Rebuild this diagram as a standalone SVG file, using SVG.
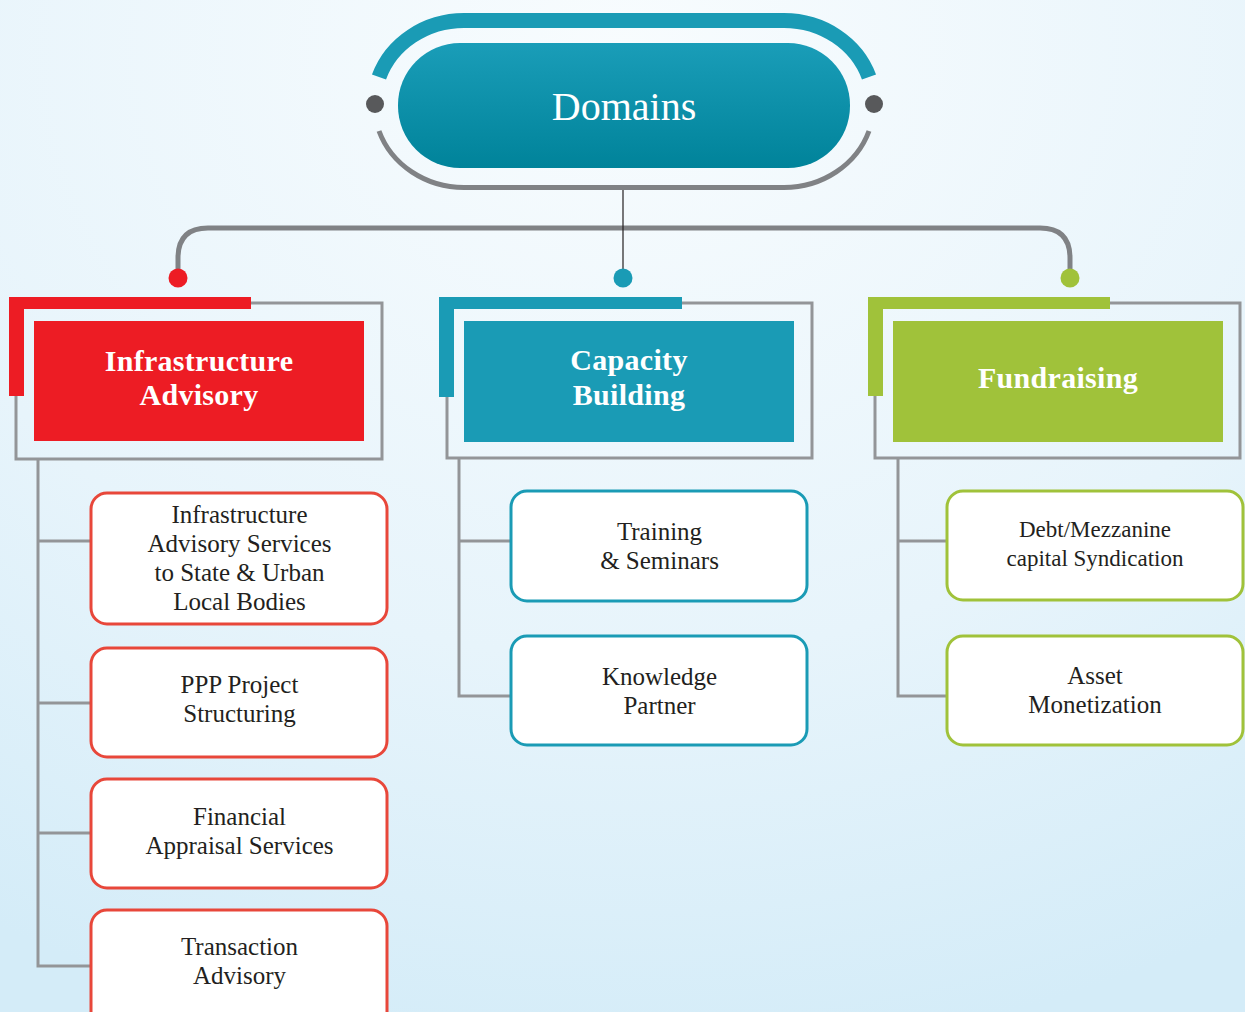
<svg xmlns="http://www.w3.org/2000/svg" width="1245" height="1012" viewBox="0 0 1245 1012">
<defs>
<radialGradient id="bg" cx="0.5" cy="0.05" r="1.0" gradientUnits="objectBoundingBox">
<stop offset="0" stop-color="#f8fcfe"/>
<stop offset="0.6" stop-color="#e7f4fb"/>
<stop offset="1" stop-color="#d4ecf8"/>
</radialGradient>
<linearGradient id="pill" x1="0" y1="0" x2="0" y2="1">
<stop offset="0" stop-color="#1a9db8"/>
<stop offset="1" stop-color="#00839a"/>
</linearGradient>
<style>
.hdr{font-family:"Liberation Serif","DejaVu Serif",serif;font-weight:bold;font-size:30px;fill:#ffffff;text-anchor:middle;letter-spacing:0.3px}
.lbl{font-family:"Liberation Serif","DejaVu Serif",serif;font-size:25px;fill:#231f20;text-anchor:middle}
.lbl.narrow{font-size:23px}
.frame{fill:none;stroke:#939598;stroke-width:3}
.conn{fill:none;stroke:#939598;stroke-width:3}
.box{fill:#ffffff;stroke-width:3}
.red{stroke:#e8473a}
.teal{stroke:#1a9bb5}
.green{stroke:#a0c23a}
</style>
</defs>
<rect x="0" y="0" width="1245" height="1012" fill="url(#bg)"/>

<g id="connectors">
<path d="M178,270 L178,258 Q178,228 208,228 L1040,228 Q1070,228 1070,258 L1070,270" fill="none" stroke="#808285" stroke-width="5"/>
<line x1="623" y1="188" x2="623" y2="272" stroke="#231f20" stroke-width="1.2"/>
<circle cx="178" cy="278" r="9.5" fill="#ed1c24"/>
<circle cx="623" cy="278" r="9.5" fill="#1a9bb5"/>
<circle cx="1070" cy="278" r="9.5" fill="#a0c23a"/>
<path class="conn" d="M38,459 L38,966 L91,966 M38,541 L91,541 M38,703 L91,703 M38,833 L91,833"/>
<path class="conn" d="M459,458 L459,696 L511,696 M459,541 L511,541"/>
<path class="conn" d="M898,458 L898,696 L947,696 M898,541 L947,541"/>
</g>

<g id="domains">
<path d="M379,77 A90,83.5 0 0 1 464,20.5 L784,20.5 A90,83.5 0 0 1 869,77" fill="none" stroke="#1a9bb5" stroke-width="15"/>
<path d="M379,131 A90,83.5 0 0 0 464,187.5 L784,187.5 A90,83.5 0 0 0 869,131" fill="none" stroke="#808285" stroke-width="5"/>
<circle cx="375" cy="104" r="9" fill="#58595b"/>
<circle cx="874" cy="104" r="9" fill="#58595b"/>
<rect x="398" y="43" width="452" height="125" rx="62" fill="url(#pill)"/>
<text x="624" y="120" font-family="Liberation Serif, DejaVu Serif, serif" font-size="40" fill="#ffffff" text-anchor="middle">Domains</text>
</g>

<g id="infrastructure-advisory">
<rect class="frame" x="16" y="303" width="366" height="156"/>
<path d="M9,297 L251,297 L251,309 L24,309 L24,396 L9,396 Z" fill="#ed1c24"/>
<rect x="34" y="321" width="330" height="120" fill="#ed1c24"/>
<text class="hdr" x="199" y="371">Infrastructure</text>
<text class="hdr" x="199" y="405">Advisory</text>
</g>

<g id="capacity-building">
<rect class="frame" x="447" y="303" width="365" height="155"/>
<path d="M439,297 L682,297 L682,309 L454,309 L454,397 L439,397 Z" fill="#1a9bb5"/>
<rect x="464" y="321" width="330" height="121" fill="#1a9bb5"/>
<text class="hdr" x="629" y="370">Capacity</text>
<text class="hdr" x="629" y="405">Building</text>
</g>

<g id="fundraising">
<rect class="frame" x="875" y="303" width="365" height="155"/>
<path d="M868,297 L1110,297 L1110,309 L883,309 L883,396 L868,396 Z" fill="#a0c23a"/>
<rect x="893" y="321" width="330" height="121" fill="#a0c23a"/>
<text class="hdr" x="1058" y="388">Fundraising</text>
</g>

<g id="ia-services">
<rect class="box red" x="91" y="493" width="296" height="131" rx="16"/>
<text class="lbl" x="239.5" y="523">Infrastructure</text>
<text class="lbl" x="239.5" y="552">Advisory Services</text>
<text class="lbl" x="239.5" y="581">to State &amp; Urban</text>
<text class="lbl" x="239.5" y="610">Local Bodies</text>
</g>
<g id="ppp-project">
<rect class="box red" x="91" y="648" width="296" height="109" rx="16"/>
<text class="lbl" x="239.5" y="693">PPP Project</text>
<text class="lbl" x="239.5" y="722">Structuring</text>
</g>
<g id="financial-appraisal">
<rect class="box red" x="91" y="779" width="296" height="109" rx="16"/>
<text class="lbl" x="239.5" y="825">Financial</text>
<text class="lbl" x="239.5" y="854">Appraisal Services</text>
</g>
<g id="transaction-advisory">
<rect class="box red" x="91" y="910" width="296" height="120" rx="16"/>
<text class="lbl" x="239.5" y="955">Transaction</text>
<text class="lbl" x="239.5" y="984">Advisory</text>
</g>

<g id="training-seminars">
<rect class="box teal" x="511" y="491" width="296" height="110" rx="16"/>
<text class="lbl" x="659.5" y="540">Training</text>
<text class="lbl" x="659.5" y="569">&amp; Seminars</text>
</g>
<g id="knowledge-partner">
<rect class="box teal" x="511" y="636" width="296" height="109" rx="16"/>
<text class="lbl" x="659.5" y="685">Knowledge</text>
<text class="lbl" x="659.5" y="714">Partner</text>
</g>

<g id="debt-mezzanine">
<rect class="box green" x="947" y="491" width="296" height="109" rx="16"/>
<text class="lbl narrow" x="1095" y="537">Debt/Mezzanine</text>
<text class="lbl narrow" x="1095" y="566">capital Syndication</text>
</g>
<g id="asset-monetization">
<rect class="box green" x="947" y="636" width="296" height="109" rx="16"/>
<text class="lbl" x="1095" y="684">Asset</text>
<text class="lbl" x="1095" y="713">Monetization</text>
</g>
</svg>
